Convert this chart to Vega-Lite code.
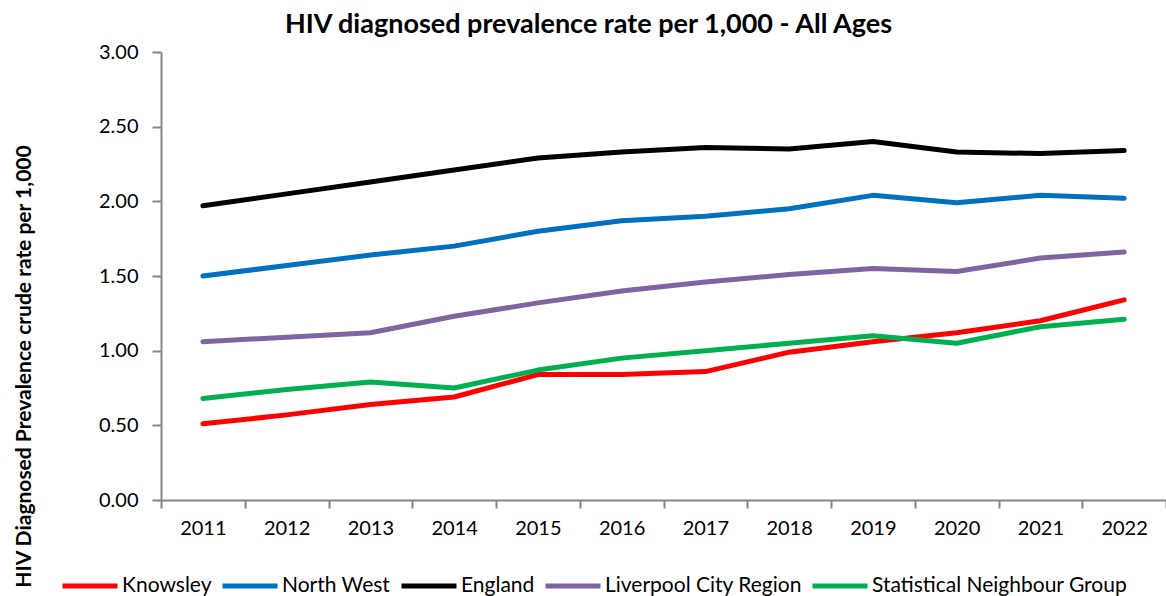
{
  "$schema": "https://vega.github.io/schema/vega-lite/v6.json",
  "autosize": {"type": "none"},
  "padding": {"left": 161, "top": 52, "right": 0, "bottom": 96},
  "width": 1005,
  "height": 448,
  "background": "white",
  "title": {
    "text": "HIV diagnosed prevalence rate per 1,000 - All Ages",
    "font": "Lato",
    "fontSize": 27,
    "fontWeight": "bold",
    "color": "#000000",
    "anchor": "middle",
    "dx": -75,
    "offset": 3
  },
  "config": {
    "view": {"stroke": null},
    "font": "Lato"
  },
  "data": {
    "values": [
      {"year": "2011", "area": "Knowsley", "rate": 0.51},
      {"year": "2012", "area": "Knowsley", "rate": 0.57},
      {"year": "2013", "area": "Knowsley", "rate": 0.64},
      {"year": "2014", "area": "Knowsley", "rate": 0.69},
      {"year": "2015", "area": "Knowsley", "rate": 0.84},
      {"year": "2016", "area": "Knowsley", "rate": 0.84},
      {"year": "2017", "area": "Knowsley", "rate": 0.86},
      {"year": "2018", "area": "Knowsley", "rate": 0.99},
      {"year": "2019", "area": "Knowsley", "rate": 1.06},
      {"year": "2020", "area": "Knowsley", "rate": 1.12},
      {"year": "2021", "area": "Knowsley", "rate": 1.2},
      {"year": "2022", "area": "Knowsley", "rate": 1.34},
      {"year": "2011", "area": "North West", "rate": 1.5},
      {"year": "2012", "area": "North West", "rate": 1.57},
      {"year": "2013", "area": "North West", "rate": 1.64},
      {"year": "2014", "area": "North West", "rate": 1.7},
      {"year": "2015", "area": "North West", "rate": 1.8},
      {"year": "2016", "area": "North West", "rate": 1.87},
      {"year": "2017", "area": "North West", "rate": 1.9},
      {"year": "2018", "area": "North West", "rate": 1.95},
      {"year": "2019", "area": "North West", "rate": 2.04},
      {"year": "2020", "area": "North West", "rate": 1.99},
      {"year": "2021", "area": "North West", "rate": 2.04},
      {"year": "2022", "area": "North West", "rate": 2.02},
      {"year": "2011", "area": "England", "rate": 1.97},
      {"year": "2012", "area": "England", "rate": 2.05},
      {"year": "2013", "area": "England", "rate": 2.13},
      {"year": "2014", "area": "England", "rate": 2.21},
      {"year": "2015", "area": "England", "rate": 2.29},
      {"year": "2016", "area": "England", "rate": 2.33},
      {"year": "2017", "area": "England", "rate": 2.36},
      {"year": "2018", "area": "England", "rate": 2.35},
      {"year": "2019", "area": "England", "rate": 2.4},
      {"year": "2020", "area": "England", "rate": 2.33},
      {"year": "2021", "area": "England", "rate": 2.32},
      {"year": "2022", "area": "England", "rate": 2.34},
      {"year": "2011", "area": "Liverpool City Region", "rate": 1.06},
      {"year": "2012", "area": "Liverpool City Region", "rate": 1.09},
      {"year": "2013", "area": "Liverpool City Region", "rate": 1.12},
      {"year": "2014", "area": "Liverpool City Region", "rate": 1.23},
      {"year": "2015", "area": "Liverpool City Region", "rate": 1.32},
      {"year": "2016", "area": "Liverpool City Region", "rate": 1.4},
      {"year": "2017", "area": "Liverpool City Region", "rate": 1.46},
      {"year": "2018", "area": "Liverpool City Region", "rate": 1.51},
      {"year": "2019", "area": "Liverpool City Region", "rate": 1.55},
      {"year": "2020", "area": "Liverpool City Region", "rate": 1.53},
      {"year": "2021", "area": "Liverpool City Region", "rate": 1.62},
      {"year": "2022", "area": "Liverpool City Region", "rate": 1.66},
      {"year": "2011", "area": "Statistical Neighbour Group", "rate": 0.68},
      {"year": "2012", "area": "Statistical Neighbour Group", "rate": 0.74},
      {"year": "2013", "area": "Statistical Neighbour Group", "rate": 0.79},
      {"year": "2014", "area": "Statistical Neighbour Group", "rate": 0.75},
      {"year": "2015", "area": "Statistical Neighbour Group", "rate": 0.87},
      {"year": "2016", "area": "Statistical Neighbour Group", "rate": 0.95},
      {"year": "2017", "area": "Statistical Neighbour Group", "rate": 1.0},
      {"year": "2018", "area": "Statistical Neighbour Group", "rate": 1.05},
      {"year": "2019", "area": "Statistical Neighbour Group", "rate": 1.1},
      {"year": "2020", "area": "Statistical Neighbour Group", "rate": 1.05},
      {"year": "2021", "area": "Statistical Neighbour Group", "rate": 1.16},
      {"year": "2022", "area": "Statistical Neighbour Group", "rate": 1.21}
    ]
  },
  "mark": {"type": "line", "strokeWidth": 5, "strokeCap": "round", "strokeJoin": "round"},
  "encoding": {
    "x": {
      "field": "year",
      "type": "ordinal",
      "scale": {"type": "band", "paddingInner": 0, "paddingOuter": 0},
      "axis": {
        "title": null,
        "labelAngle": 0,
        "labelFont": "Lato",
        "labelFontSize": 20,
        "labelColor": "#000000",
        "labelPadding": 10,
        "tickBand": "extent",
        "tickSize": 8,
        "tickColor": "#868686",
        "domainColor": "#868686",
        "domainWidth": 2,
        "tickWidth": 2,
        "grid": false
      }
    },
    "y": {
      "field": "rate",
      "type": "quantitative",
      "scale": {"domain": [0, 3], "nice": false},
      "axis": {
        "title": "HIV Diagnosed Prevalence crude rate  per 1,000",
        "titleFont": "Lato",
        "titleFontSize": 21,
        "titleFontWeight": "bold",
        "titleColor": "#000000",
        "titleAngle": -90,
        "titleX": -137,
        "titleY": 314,
        "titleAlign": "center",
        "titleBaseline": "middle",
        "values": [0, 0.5, 1, 1.5, 2, 2.5, 3],
        "format": ".2f",
        "labelFont": "Lato",
        "labelFontSize": 20,
        "labelColor": "#000000",
        "labelPadding": 14,
        "tickSize": 9,
        "tickColor": "#868686",
        "domainColor": "#868686",
        "domainWidth": 2,
        "tickWidth": 2,
        "grid": false
      }
    },
    "color": {
      "field": "area",
      "type": "nominal",
      "scale": {
        "domain": ["Knowsley", "North West", "England", "Liverpool City Region", "Statistical Neighbour Group"],
        "range": ["#FF0000", "#0070C0", "#000000", "#8064A2", "#00B050"]
      },
      "legend": {
        "title": null,
        "orient": "none",
        "direction": "horizontal",
        "legendX": -101,
        "legendY": 504,
        "symbolType": "stroke",
        "symbolSize": 3025,
        "symbolStrokeWidth": 5,
        "labelFont": "Lato",
        "labelFontSize": 21,
        "labelColor": "#000000",
        "labelOffset": 2,
        "columnPadding": 0,
        "labelLimit": 400
      }
    }
  }
}
